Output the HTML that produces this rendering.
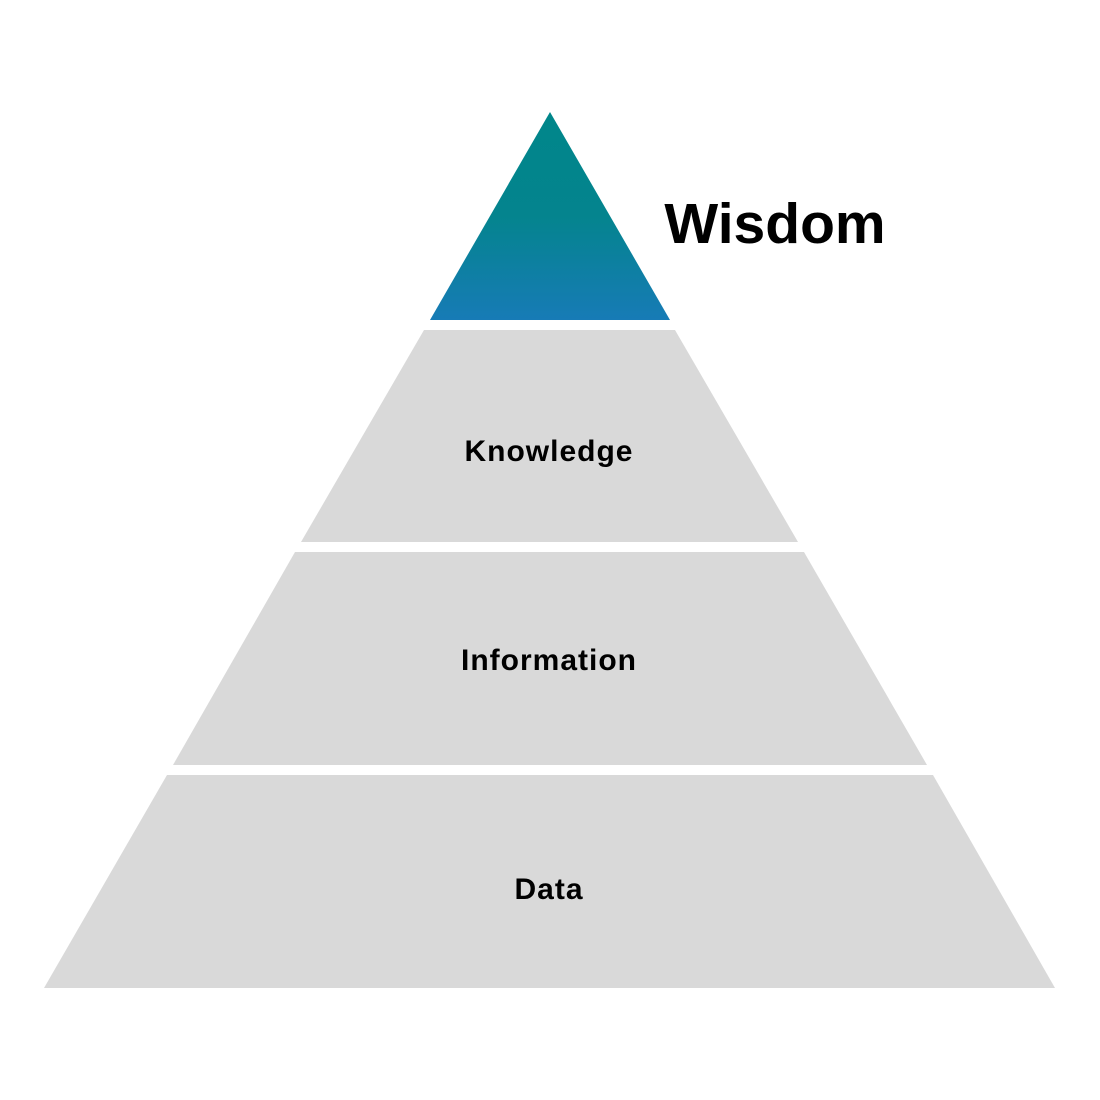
<!DOCTYPE html>
<html><head><meta charset="utf-8"><style>
html,body{margin:0;padding:0;background:#fff;}
svg{display:block;}
</style></head><body>
<svg width="1100" height="1100" viewBox="0 0 1100 1100" xmlns="http://www.w3.org/2000/svg">
<defs>
<linearGradient id="g" x1="0" y1="0" x2="0" y2="1">
<stop offset="0" stop-color="#00868A"/>
<stop offset="0.5" stop-color="#04848E"/>
<stop offset="1" stop-color="#177BB6"/>
</linearGradient>
</defs>
<rect width="1100" height="1100" fill="#fff"/>
<polygon points="550,112 670,320 430,320" fill="url(#g)"/>
<polygon points="424,330 675,330 798,542 301,542" fill="#d9d9d9"/>
<polygon points="295,552 804,552 927,765 173,765" fill="#d9d9d9"/>
<polygon points="167,775 933,775 1055,988 44,988" fill="#d9d9d9"/>
<g font-family="'Liberation Sans', sans-serif" font-weight="bold" fill="#000" text-anchor="middle">
<text x="775" y="243" font-size="57">Wisdom</text>
<text x="549" y="461" font-size="30" letter-spacing="1">Knowledge</text>
<text x="549" y="670" font-size="30" letter-spacing="1">Information</text>
<text x="549" y="899" font-size="30" letter-spacing="1">Data</text>
</g>
</svg>
</body></html>
